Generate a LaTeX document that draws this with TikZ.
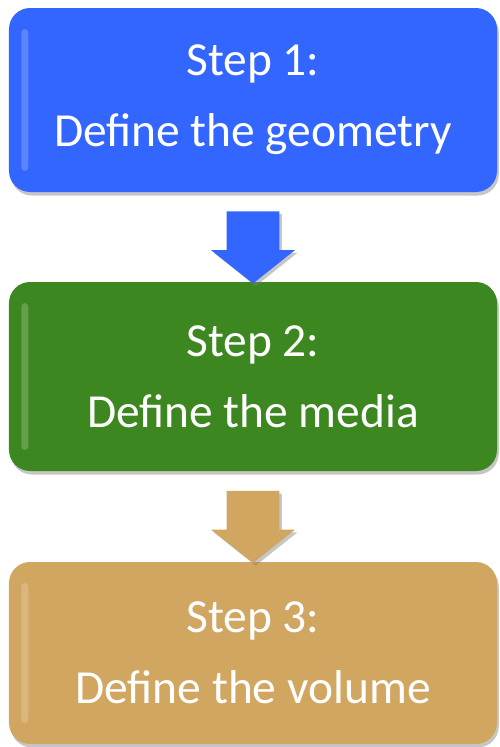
\documentclass[tikz,border=0pt]{standalone}
\usepackage{fontspec}
\setmainfont{Carlito}
\usetikzlibrary{shapes.arrows,shadows,calc}

\definecolor{stepblue}{RGB}{51,102,255}
\definecolor{stepgreen}{RGB}{61,135,32}
\definecolor{steptan}{RGB}{209,166,96}

\begin{document}
\begin{tikzpicture}[
    stepbox/.style={rectangle, rounded corners=12pt, minimum width=9.76cm, align=center,
        text=white, font=\fontsize{27}{40.5}\selectfont,
        drop shadow={shadow xshift=1pt, shadow yshift=-2pt, opacity=0.45},
        path picture={\fill[white, opacity=0.2, rounded corners=2pt]
            ([xshift=7pt, yshift=-12pt]path picture bounding box.north west) rectangle
            ([xshift=11pt, yshift=12pt]path picture bounding box.south west);}},
    downarrow/.style={single arrow, rotate=-90, inner xsep=0pt, inner ysep=0.52cm,
        minimum height=1.44cm, minimum width=1.66cm, single arrow head extend=0.31cm,
        single arrow tip angle=103,
        drop shadow={shadow xshift=1.5pt, shadow yshift=-1.5pt, opacity=0.45}}
]
    \useasboundingbox (0,0) rectangle (10,-14.94);

    % Steps
    \node[stepbox, fill=stepblue, minimum height=3.68cm] (geom) at (5.06,-2.0) {Step 1:\\Define the geometry};
    \node[stepbox, fill=stepgreen, minimum height=3.78cm] (media) at (5.06,-7.53) {Step 2:\\Define the media};
    \node[stepbox, fill=steptan, minimum height=3.64cm] (volume) at (5.06,-13.06) {Step 3:\\Define the volume};

    % Arrows
    \node[downarrow, fill=stepblue] (arr1) at ($(geom.south)!0.5!(media.north)$) {};
    \node[downarrow, fill=steptan] (arr2) at ($(media.south)!0.5!(volume.north)$) {};
\end{tikzpicture}
\end{document}
